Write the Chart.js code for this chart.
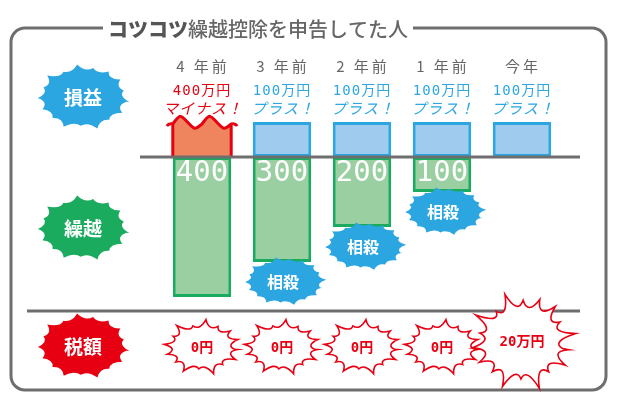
<!DOCTYPE html>
<html>
<head>
<meta charset="utf-8">
<script src="https://cdn.jsdelivr.net/npm/chart.js@4.4.1/dist/chart.umd.min.js"></script>
<style>
  html, body { margin: 0; padding: 0; background: #ffffff; }
  #wrap { width: 620px; height: 400px; }
</style>
</head>
<body>
<div id="wrap"><canvas id="chart" width="620" height="400"></canvas></div>
<script>
// data (万円)
const categories = ["4 年前", "3 年前", "2 年前", "1 年前", "今年"];
const profitLoss = [-400, 100, 100, 100, 100];
const carryover = [400, 300, 200, 100, 0];
const offsetLabels = ["", "相殺", "相殺", "相殺", ""];
const taxAmount = [0, 0, 0, 0, 20];

const GRAY = "#6e6e6e";
const BLUE = "#2ca6e0";
const GREEN = "#1aab5f";
const RED = "#e60012";
const JP = "'Noto Sans CJK JP', 'Noto Sans', sans-serif";

// displayed height of the top boxes is capped (the loss box is cut with a wave)
const topBoxes = profitLoss.map(v => Math.min(Math.abs(v), 100));
const carryBars = carryover.map(v => -v);

// spiky speech burst; tips alternate a little in length
function burst(ctx, cx, cy, rx, ry, n, inner, jag, rot) {
  ctx.beginPath();
  for (let i = 0; i <= n; i++) {
    const a = rot + (i / n) * Math.PI * 2;
    const r = 1 + jag * Math.sin(i * 2.7);
    const tx = cx + Math.cos(a) * rx * r;
    const ty = cy + Math.sin(a) * ry * r;
    if (i === 0) {
      ctx.moveTo(tx, ty);
    } else {
      const am = a - Math.PI / n;
      ctx.quadraticCurveTo(cx + Math.cos(am) * rx * inner, cy + Math.sin(am) * ry * inner, tx, ty);
    }
  }
  ctx.closePath();
}

function roundRect(ctx, x, y, w, h, r) {
  ctx.beginPath();
  ctx.moveTo(x + r, y);
  ctx.lineTo(x + w - r, y);
  ctx.arcTo(x + w, y, x + w, y + r, r);
  ctx.lineTo(x + w, y + h - r);
  ctx.arcTo(x + w, y + h, x + w - r, y + h, r);
  ctx.lineTo(x + r, y + h);
  ctx.arcTo(x, y + h, x, y + h - r, r);
  ctx.lineTo(x, y + r);
  ctx.arcTo(x, y, x + r, y, r);
  ctx.closePath();
}

const decor = {
  id: "decor",
  beforeDraw(chart) {
    const ctx = chart.ctx;
    ctx.save();
    ctx.fillStyle = "#fff";
    ctx.fillRect(0, 0, chart.width, chart.height);
    // frame
    ctx.strokeStyle = GRAY;
    ctx.lineWidth = 3;
    roundRect(ctx, 11, 28, 595, 362, 14);
    ctx.stroke();
    // title
    ctx.fillStyle = "#fff";
    ctx.fillRect(103, 16, 310, 24);
    ctx.textBaseline = "middle";
    ctx.textAlign = "left";
    ctx.fillStyle = "#555";
    ctx.font = "900 20px " + JP;
    ctx.fillText("コツコツ", 108, 29);
    const w = ctx.measureText("コツコツ").width;
    ctx.fillStyle = "#666";
    ctx.font = "500 20px " + JP;
    ctx.fillText("繰越控除を申告してた人", 108 + w, 29);
    ctx.restore();
  },
  afterDatasetsDraw(chart) {
    const ctx = chart.ctx;
    const x = chart.scales.x;
    const y = chart.scales.y;
    const top = chart.getDatasetMeta(0).data;
    const low = chart.getDatasetMeta(1).data;
    const y0 = y.getPixelForValue(0);
    ctx.save();

    // loss box with wavy top
    profitLoss.forEach((v, i) => {
      if (v >= 0) return;
      const b = top[i];
      const l = b.x - b.width / 2, r = b.x + b.width / 2;
      const t = b.y;
      ctx.beginPath();
      ctx.moveTo(l, y0);
      ctx.lineTo(l, t + 2);
      const seg = (r - l) / 2;
      for (let k = 0; k < 2; k++) {
        const sx = l + k * seg;
        ctx.bezierCurveTo(sx + seg * 0.25, t - 8, sx + seg * 0.25, t - 8, sx + seg * 0.5, t);
        ctx.bezierCurveTo(sx + seg * 0.75, t + 8, sx + seg * 0.75, t + 8, sx + seg, t + 2);
      }
      ctx.lineTo(r, y0);
      ctx.closePath();
      ctx.fillStyle = "#ef855e";
      ctx.fill();
      ctx.strokeStyle = RED;
      ctx.lineWidth = 3;
      ctx.beginPath();
      ctx.moveTo(l, y0);
      ctx.lineTo(l, t + 2);
      ctx.moveTo(r, y0);
      ctx.lineTo(r, t + 2);
      ctx.moveTo(l - 6, t + 4);
      ctx.quadraticCurveTo(l - 4, t + 1, l, t + 2);
      for (let k = 0; k < 2; k++) {
        const sx = l + k * seg;
        ctx.bezierCurveTo(sx + seg * 0.25, t - 8, sx + seg * 0.25, t - 8, sx + seg * 0.5, t);
        ctx.bezierCurveTo(sx + seg * 0.75, t + 8, sx + seg * 0.75, t + 8, sx + seg, t + 2);
      }
      ctx.quadraticCurveTo(r + 4, t + 1, r + 6, t + 4);
      ctx.stroke();
    });

    // axis lines
    ctx.strokeStyle = GRAY;
    ctx.lineWidth = 3;
    ctx.beginPath();
    ctx.moveTo(140, y0);
    ctx.lineTo(580, y0);
    ctx.moveTo(27, 311);
    ctx.lineTo(580, 311);
    ctx.stroke();

    ctx.textAlign = "center";
    ctx.textBaseline = "middle";
    categories.forEach((c, i) => {
      const cx = x.getPixelForValue(i);
      // year label
      ctx.fillStyle = "#666";
      ctx.font = "15px " + JP;
      ctx.letterSpacing = "3px";
      ctx.fillText(c, cx + 1, 66);
      ctx.letterSpacing = "1px";
      // profit / loss text
      const v = profitLoss[i];
      ctx.fillStyle = v < 0 ? RED : BLUE;
      ctx.font = "14px 'DejaVu Sans Mono', " + JP;
      ctx.fillText(Math.abs(v) + "万円", cx, 91);
      ctx.font = "italic 15px " + JP;
      ctx.fillText(v < 0 ? "マイナス！" : "プラス！", cx + 1, 108);
      ctx.letterSpacing = "0px";

      // carryover number
      const b = low[i];
      if (carryover[i] > 0) {
        ctx.fillStyle = "#fff";
        ctx.font = "29px 'DejaVu Sans Mono', monospace";
        ctx.textBaseline = "top";
        ctx.fillText(String(carryover[i]), cx, y0 + 2);
        ctx.textBaseline = "middle";
      }
      // offset bursts under bars
      if (offsetLabels[i]) {
        const by = b.y + 19;
        ctx.fillStyle = BLUE;
        burst(ctx, cx + 3, by, 39, 23, 18, 0.8, 0.06, 0.3);
        ctx.fill();
        ctx.fillStyle = "#fff";
        ctx.font = "bold 16px " + JP;
        ctx.fillText(offsetLabels[i], cx + 1, by + 1);
      }

      // tax bursts
      const big = taxAmount[i] > 0;
      const ty = big ? 341 : 347;
      ctx.fillStyle = "#fff";
      ctx.strokeStyle = RED;
      ctx.lineWidth = 1.6;
      if (big) burst(ctx, cx, ty, 48, 44, 18, 0.6, 0.14, 0.2);
      else burst(ctx, cx, ty, 36, 25, 16, 0.66, 0.12, 0.1);
      ctx.fill();
      ctx.stroke();
      ctx.fillStyle = RED;
      ctx.font = "bold 14px 'DejaVu Sans Mono', " + JP;
      ctx.fillText(big ? taxAmount[i] + "万円" : "0円", cx, ty + 1);
    });

    // row labels
    const rows = [["損益", BLUE, 97], ["繰越", GREEN, 228], ["税額", RED, 346]];
    rows.forEach(([t, col, cy]) => {
      ctx.fillStyle = col;
      burst(ctx, 83, cy, 44, 31, 17, 0.8, 0.07, 0.15);
      ctx.fill();
      ctx.fillStyle = "#fff";
      ctx.font = "bold 19px " + JP;
      ctx.fillText(t, 83, cy + 1);
    });
    ctx.restore();
  }
};

new Chart(document.getElementById("chart"), {
  type: "bar",
  data: {
    labels: categories,
    datasets: [
      {
        label: "損益",
        data: topBoxes,
        backgroundColor: profitLoss.map(v => v < 0 ? "rgba(0,0,0,0)" : "#9fcbee"),
        borderColor: profitLoss.map(v => v < 0 ? "rgba(0,0,0,0)" : BLUE),
        borderWidth: 3,
        borderSkipped: false,
        categoryPercentage: 1,
        barPercentage: 0.73
      },
      {
        label: "繰越",
        data: carryBars,
        backgroundColor: "#9acfa2",
        borderColor: GREEN,
        borderWidth: 3,
        borderSkipped: false,
        categoryPercentage: 1,
        barPercentage: 0.73
      }
    ]
  },
  options: {
    responsive: false,
    animation: false,
    layout: { padding: { left: 162, right: 58, top: 122, bottom: 103 } },
    plugins: { legend: { display: false }, tooltip: { enabled: false } },
    scales: {
      x: { stacked: true, display: false },
      y: { stacked: true, display: false, min: -400, max: 100 }
    }
  },
  plugins: [decor]
});
</script>
</body>
</html>
